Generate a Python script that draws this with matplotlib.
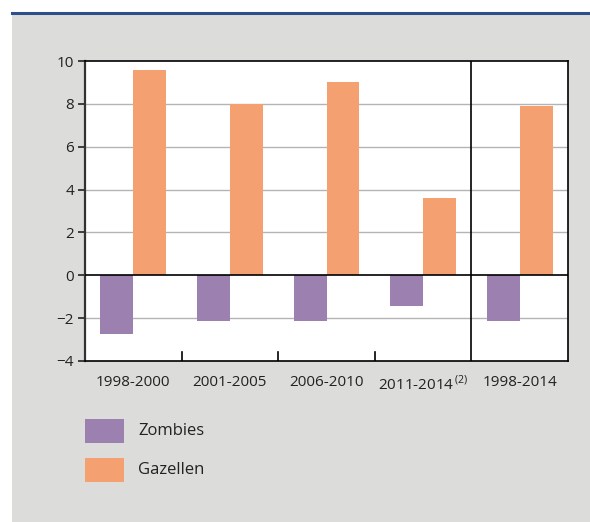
import numpy as np
import matplotlib.pyplot as plt
from matplotlib.patches import Rectangle
from matplotlib.lines import Line2D

# Daten
perioden = ["1998-2000", "2001-2005", "2006-2010", "2011-2014", "1998-2014"]
zombies = [-2.75, -2.15, -2.15, -1.45, -2.15]
gazellen = [9.6, 8.0, 9.0, 3.6, 7.9]

lila = "#9b80b0"
orange = "#f5a071"
hg = "#dcdcda"

plt.rcParams['font.family'] = ['Open Sans', 'DejaVu Sans']

fig = plt.figure(figsize=(5.9, 5.22), dpi=100)
W, H = 590, 522

# grauer Hintergrund + blaue Linie oben
fig.patches.append(Rectangle((12 / W, 0), 1, (H - 14) / H, transform=fig.transFigure,
                             facecolor=hg, edgecolor='none', zorder=-10))
fig.lines.append(Line2D([12 / W, 1], [(H - 13) / H] * 2, transform=fig.transFigure,
                        color="#2d4f8a", lw=2.2, zorder=-5))

ax = fig.add_axes([85 / W, (H - 361) / H, (568 - 85) / W, (361 - 61) / H])
ax.set_facecolor("white")

x = np.arange(len(perioden))
b = 0.34
ax.bar(x - b / 2, zombies, width=b, color=lila, zorder=2)
ax.bar(x + b / 2, gazellen, width=b, color=orange, zorder=2)

ax.set_xlim(-0.5, len(perioden) - 0.5)
ax.set_ylim(-4, 10)
ax.set_yticks(range(-4, 11, 2))
ax.set_yticklabels([str(v).replace("-", "\u2212") for v in range(-4, 11, 2)])

for v in [-2, 2, 4, 6, 8]:
    ax.axhline(v, color="#b4b4b4", lw=1, zorder=1)
ax.axhline(0, color="black", lw=1.2, zorder=3)
ax.axvline(3.5, color="black", lw=1.2, zorder=3)

# Trennstriche zwischen Gruppen
for g in [0.5, 1.5, 2.5]:
    ax.plot([g, g], [-4, -3.6], color="black", lw=1.2, zorder=3)

ax.set_xticks(x)
labels = list(perioden)
labels[3] = r"2011-2014$^{\,\mathregular{(2)}}$"
ax.set_xticklabels(labels, fontsize=11)
ax.tick_params(axis='x', length=0, pad=10, colors="#222222")
ax.tick_params(axis='y', length=5, width=1.2, labelsize=11, pad=3, colors="#222222")

for s in ax.spines.values():
    s.set_color("black")
    s.set_linewidth(1.2)
ax.spines['left'].set_color("#333333")
ax.spines['left'].set_linewidth(1.6)

# Legende
for i, (name, col) in enumerate([("Zombies", lila), ("Gazellen", orange)]):
    y0 = 419 + i * 39
    fig.patches.append(Rectangle((85 / W, (H - y0 - 24) / H), 39 / W, 24 / H,
                                 transform=fig.transFigure, facecolor=col,
                                 edgecolor='none'))
    fig.text(138 / W, (H - y0 - 12) / H, name, fontsize=12, va='center',
             color="#222222")

fig.savefig("out.png", dpi=100, facecolor="white")
